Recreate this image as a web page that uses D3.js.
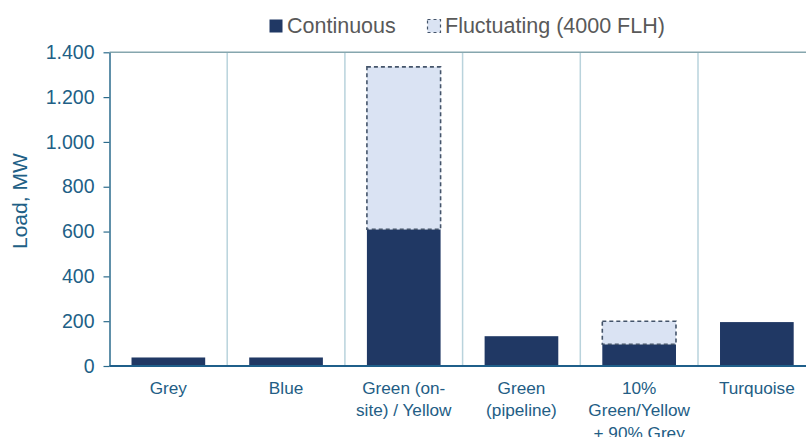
<!DOCTYPE html>
<html>
<head>
<meta charset="utf-8">
<script src="https://cdn.jsdelivr.net/npm/d3@7"></script>
<style>
  body { margin: 0; background: #fff; }
  svg { font-family: "Liberation Sans", Arial, sans-serif; display: block; }
</style>
</head>
<body>
<svg id="chart"></svg>
<script>
const categories = [
  ["Grey"],
  ["Blue"],
  ["Green (on-", "site) / Yellow"],
  ["Green", "(pipeline)"],
  ["10%", "Green/Yellow", "+ 90% Grey"],
  ["Turquoise"]
];
const continuous = [38, 38, 610, 133, 97, 196];
const fluctuating = [0, 0, 725, 0, 103, 0];
const yTicks = [0, 200, 400, 600, 800, 1000, 1200, 1400];

const w = 806;
const h = 437;
const pLeft = 109.5;
const pRight = 815.7;
const pTop = 52.3;
const pBottom = 366;

const navy = "#203864";
const light = "#dae3f3";
const dash = "#44546a";
const axisColor = "#2b6b8c";

const svg = d3.select("#chart").attr("width", w).attr("height", h);

const keys = categories.map((c, i) => i);
const rows = keys.map((i) => ({ i, continuous: continuous[i], fluctuating: fluctuating[i] }));
const series = d3.stack().keys(["continuous", "fluctuating"])(rows);

const x = d3.scaleBand().domain(keys).range([pLeft, pRight]).paddingInner(0.374).paddingOuter(0.187);
const y = d3.scaleLinear().domain([0, 1400]).range([pBottom, pTop]);

const locale = d3.formatLocale({ decimal: ",", thousands: ".", grouping: [3], currency: ["", ""] });
const fmt = locale.format(",d");

// category separators
svg.append("g")
  .selectAll("line")
  .data(keys.slice(1))
  .enter()
  .append("line")
  .attr("x1", (d) => pLeft + x.step() * d)
  .attr("x2", (d) => pLeft + x.step() * d)
  .attr("y1", y(1400))
  .attr("y2", y(0))
  .attr("stroke", "#b9d3dc")
  .attr("stroke-width", 1.5);

// top border
svg.append("line")
  .attr("x1", pLeft).attr("x2", w)
  .attr("y1", y(1400)).attr("y2", y(1400))
  .attr("stroke", "#86a6ae")
  .attr("stroke-width", 1.5);

// continuous bars
svg.append("g")
  .selectAll("rect")
  .data(series[0])
  .enter()
  .append("rect")
  .attr("x", (d) => x(d.data.i))
  .attr("width", x.bandwidth())
  .attr("y", (d) => y(d[1]))
  .attr("height", (d) => y(d[0]) - y(d[1]))
  .attr("fill", navy);

// fluctuating bars
svg.append("g")
  .selectAll("rect")
  .data(series[1].filter((d) => d[1] > d[0]))
  .enter()
  .append("rect")
  .attr("x", (d) => x(d.data.i))
  .attr("width", x.bandwidth())
  .attr("y", (d) => y(d[1]))
  .attr("height", (d) => y(d[0]) - y(d[1]))
  .attr("fill", light)
  .attr("stroke", dash)
  .attr("stroke-width", 1.6)
  .attr("stroke-dasharray", "4,3");

// y axis
const yAxis = svg.append("g")
  .attr("transform", `translate(${pLeft}, 0)`)
  .call(d3.axisLeft(y).tickValues(yTicks).tickFormat(fmt).tickSize(6).tickSizeOuter(0).tickPadding(9));
yAxis.select(".domain").attr("stroke", axisColor).attr("stroke-width", 1.5);
yAxis.selectAll(".tick line").attr("stroke", axisColor).attr("stroke-width", 1.2);
yAxis.selectAll(".tick text")
  .attr("fill", "#215f86")
  .style("font-size", "19.5px");

// x axis line
svg.append("line")
  .attr("x1", pLeft).attr("x2", w)
  .attr("y1", y(0)).attr("y2", y(0))
  .attr("stroke", "#1f5f8a")
  .attr("stroke-width", 2);

// category labels
const labels = svg.append("g")
  .selectAll("text")
  .data(keys)
  .enter()
  .append("text")
  .attr("x", (d) => x(d) + x.bandwidth() / 2)
  .attr("y", 393.5)
  .attr("text-anchor", "middle")
  .attr("fill", "#235d85")
  .style("font-size", "17.2px");
labels.selectAll("tspan")
  .data((d) => categories[d])
  .enter()
  .append("tspan")
  .attr("x", function () { return d3.select(this.parentNode).attr("x"); })
  .attr("dy", (d, i) => (i === 0 ? 0 : 22.5))
  .text((d) => d);

// y label
svg.append("text")
  .attr("transform", `translate(27, ${(pTop + pBottom) / 2 - 8}) rotate(-90)`)
  .attr("text-anchor", "middle")
  .attr("fill", "#215f86")
  .style("font-size", "21px")
  .text("Load, MW");

// legend
const legend = [
  { text: "Continuous", x: 269, fill: navy, dashed: false },
  { text: "Fluctuating (4000 FLH)", x: 427, fill: light, dashed: true }
];
const lg = svg.append("g")
  .selectAll("g")
  .data(legend)
  .enter()
  .append("g")
  .attr("transform", (d) => `translate(${d.x}, 0)`);
lg.append("rect")
  .attr("x", 0.5).attr("y", 19.5)
  .attr("width", 13).attr("height", 13)
  .attr("fill", (d) => d.fill)
  .attr("stroke", (d) => (d.dashed ? dash : "none"))
  .attr("stroke-width", 1.2)
  .attr("stroke-dasharray", "3,3");
lg.append("text")
  .attr("x", 18)
  .attr("y", 33)
  .attr("fill", "#595959")
  .style("font-size", "21.5px")
  .text((d) => d.text);
</script>
</body>
</html>
